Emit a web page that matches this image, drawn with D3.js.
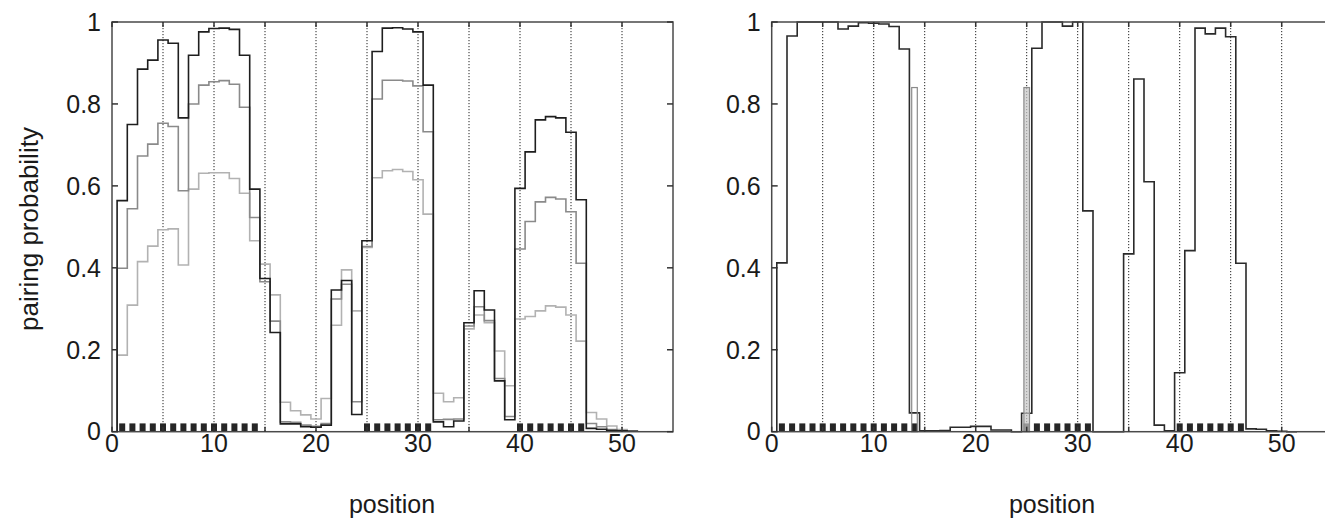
<!DOCTYPE html>
<html>
<head>
<meta charset="utf-8">
<script src="https://cdn.jsdelivr.net/npm/d3@7"></script>
<style>
  html, body { margin: 0; padding: 0; background: #fff; }
  svg { display: block; }
  text { font-family: "Liberation Sans", Arial, sans-serif; fill: #1a1a1a; }
</style>
</head>
<body>
<svg id="chart" width="1325" height="519"></svg>
<script>
// ---- data ----
const positions = [1,2,3,4,5,6,7,8,9,10,11,12,13,14,15,16,17,18,19,20,21,22,23,24,25,26,27,28,29,30,31,32,33,34,35,36,37,38,39,40,41,42,43,44,45,46,47,48,49,50,51];

const leftBlack = [0.564,0.750,0.885,0.907,0.956,0.948,0.766,0.919,0.976,0.984,0.985,0.982,0.919,0.592,0.374,0.242,0.019,0.019,0.012,0.011,0.016,0.346,0.369,0.042,0.466,0.928,0.985,0.986,0.983,0.976,0.846,0.024,0.012,0.026,0.266,0.344,0.297,0.124,0.029,0.594,0.683,0.761,0.769,0.766,0.731,0.566,0.008,0.006,0.003,0.002,0.001];
const leftGray  = [0.399,0.544,0.673,0.702,0.753,0.745,0.588,0.800,0.846,0.854,0.857,0.848,0.792,0.523,0.366,0.270,0.024,0.023,0.016,0.013,0.020,0.324,0.360,0.073,0.452,0.812,0.858,0.858,0.856,0.844,0.732,0.029,0.030,0.031,0.258,0.305,0.271,0.130,0.037,0.446,0.513,0.561,0.572,0.568,0.537,0.411,0.020,0.012,0.005,0.003,0.001];
const leftLight = [0.187,0.309,0.415,0.453,0.493,0.495,0.407,0.592,0.631,0.632,0.632,0.618,0.582,0.466,0.409,0.334,0.072,0.051,0.041,0.031,0.081,0.260,0.395,0.295,0.450,0.620,0.637,0.640,0.635,0.615,0.531,0.094,0.073,0.083,0.251,0.285,0.266,0.197,0.112,0.275,0.281,0.295,0.307,0.304,0.285,0.221,0.047,0.031,0.014,0.005,0.002];

const rightBlack = [0.412,0.966,1.0,1.0,1.0,1.0,0.983,0.990,0.998,0.997,0.995,0.989,0.934,0.046,0.002,0.002,0.003,0.011,0.011,0.013,0.013,0.004,0.004,0.0,0.045,0.936,1.0,1.0,0.990,1.0,0.539,0.0,0.0,0.0,0.434,0.861,0.610,0.016,0.002,0.144,0.442,0.985,0.971,0.985,0.964,0.411,0.007,0.006,0.002,0.001,0.0];
const rightBarPos = [14, 25];
const rightBarVal = [0.84, 0.84];

const helixPos = [1,2,3,4,5,6,7,8,9,10,11,12,13,14,25,26,27,28,29,30,31,40,41,42,43,44,45,46];

const xTickVals = [0,10,20,30,40,50];
const xGridVals = [5,10,15,20,25,30,35,40,45,50];
const yTickVals = [0,0.2,0.4,0.6,0.8,1];
const yTickLabels = ["0","0.2","0.4","0.6","0.8","1"];

// ---- layout ----
const svg = d3.select("#chart");
const plotTop = 22, plotBottom = 431.7;
const panels = [
  { x0: 112, x1: 673, series: [
      { vals: leftLight, color: "#b2b2b2" },
      { vals: leftGray,  color: "#8a8a8a" },
      { vals: leftBlack, color: "#1e1e1e" } ], bars: false },
  { x0: 771.7, x1: 1332.7, series: [
      { vals: rightBlack, color: "#2a2a2a" } ], bars: true }
];

panels.forEach((p, pi) => {
  const x = d3.scaleLinear().domain([0, 55]).range([p.x0, p.x1]);
  const y = d3.scaleLinear().domain([0, 1]).range([plotBottom, plotTop]);
  const g = svg.append("g");

  // vertical dotted grid
  g.selectAll("line.grid").data(xGridVals).enter().append("line")
    .attr("x1", d => x(d)).attr("x2", d => x(d))
    .attr("y1", plotTop).attr("y2", plotBottom)
    .attr("stroke", "#222").attr("stroke-width", 1)
    .attr("stroke-dasharray", "1.2,1.8");

  // step series
  const line = d3.line().x(d => x(d[0])).y(d => y(d[1]));
  p.series.forEach(s => {
    const pts = [[positions[0] - 0.5, 0]];
    s.vals.forEach((v, i) => {
      pts.push([positions[i] - 0.5, v]);
      pts.push([positions[i] + 0.5, v]);
    });
    pts.push([positions[positions.length - 1] + 0.5, 0]);
    g.append("path").attr("d", line(pts))
      .attr("fill", "none").attr("stroke", s.color).attr("stroke-width", 1.6);
  });

  // helix markers
  g.selectAll("rect.helix").data(helixPos).enter().append("rect")
    .attr("x", d => x(d) - 3).attr("width", 6)
    .attr("y", plotBottom - 8.3).attr("height", 8.3)
    .attr("fill", "#262626");

  // thin gray bars (right panel)
  if (p.bars) {
    g.selectAll("rect.bar").data(rightBarPos).enter().append("rect")
      .attr("x", d => x(d) - 2.8).attr("width", 5.6)
      .attr("y", (d, i) => y(rightBarVal[i]))
      .attr("height", (d, i) => y(0) - y(rightBarVal[i]))
      .attr("fill", (d, i) => i === 0 ? "none" : "rgba(200,200,200,0.7)")
      .attr("stroke", "#8a8a8a").attr("stroke-width", 1.2);
  }

  // frame
  g.append("rect").attr("x", p.x0).attr("y", plotTop)
    .attr("width", p.x1 - p.x0).attr("height", plotBottom - plotTop)
    .attr("fill", "none").attr("stroke", "#4a4a4a").attr("stroke-width", 1.5);

  // x ticks inward (top and bottom)
  const xt = [0].concat(xGridVals);
  g.selectAll("line.xtb").data(xt).enter().append("line")
    .attr("x1", d => x(d)).attr("x2", d => x(d))
    .attr("y1", plotBottom).attr("y2", plotBottom - 5)
    .attr("stroke", "#333").attr("stroke-width", 1.5);
  g.selectAll("line.xtt").data(xt).enter().append("line")
    .attr("x1", d => x(d)).attr("x2", d => x(d))
    .attr("y1", plotTop).attr("y2", plotTop + 5)
    .attr("stroke", "#333").attr("stroke-width", 1.5);

  // y ticks inward (left and right)
  g.selectAll("line.ytl").data(yTickVals).enter().append("line")
    .attr("x1", p.x0).attr("x2", p.x0 + 6)
    .attr("y1", d => y(d)).attr("y2", d => y(d))
    .attr("stroke", "#333").attr("stroke-width", 1.5);
  g.selectAll("line.ytr").data(yTickVals).enter().append("line")
    .attr("x1", p.x1).attr("x2", p.x1 - 6)
    .attr("y1", d => y(d)).attr("y2", d => y(d))
    .attr("stroke", "#333").attr("stroke-width", 1.5);

  // tick labels
  g.selectAll("text.xl").data(xTickVals).enter().append("text")
    .attr("x", d => x(d)).attr("y", plotBottom + 12)
    .attr("dy", "0.35em")
    .attr("text-anchor", "middle").attr("font-size", 25)
    .text(d => d);
  g.selectAll("text.yl").data(yTickVals).enter().append("text")
    .attr("x", p.x0 - 11).attr("y", d => y(d))
    .attr("dy", "0.35em")
    .attr("text-anchor", "end").attr("font-size", 25)
    .text((d, i) => yTickLabels[i]);

  // x title
  g.append("text").attr("x", pi === 0 ? 392 : 1052).attr("y", 513)
    .attr("text-anchor", "middle").attr("font-size", 25).text("position");
});

// y title
svg.append("text")
  .attr("transform", "translate(38,229) rotate(-90)")
  .attr("text-anchor", "middle").attr("font-size", 26)
  .text("pairing probability");
</script>
</body>
</html>
